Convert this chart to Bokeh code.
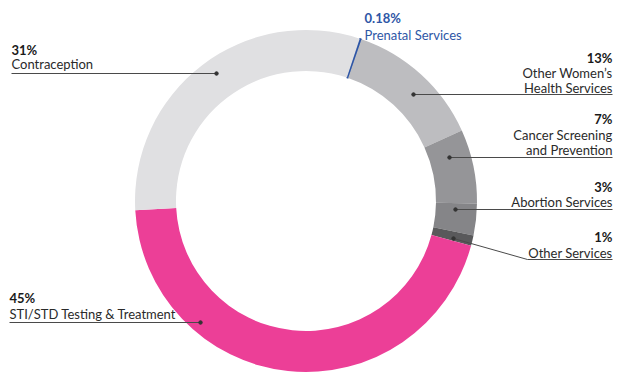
from bokeh.plotting import figure
from bokeh.models import Range1d, ColumnDataSource
from bokeh.core.properties import value
from bokeh.embed import file_html
from bokeh.resources import INLINE
import math

# ---- data ----
categories = ["Prenatal Services", "Other Women’s Health Services", "Cancer Screening and Prevention",
              "Abortion Services", "Other Services", "STI/STD Testing & Treatment", "Contraception"]
shares = [0.18, 13, 7, 3, 1, 45, 31]
share_labels = ["0.18%", "13%", "7%", "3%", "1%", "45%", "31%"]
colors = ["#2e56a6", "#bdbdc0", "#959598", "#858588", "#59595b", "#ec3f97", "#e0e0e2"]
label_lines = [["Prenatal Services"], ["Other Women’s", "Health Services"], ["Cancer Screening", "and Prevention"],
               ["Abortion Services"], ["Other Services"], ["STI/STD Testing & Treatment"], ["Contraception"]]

# ---- layout (page pixel coords) ----
W, H = 628, 379
def X(px): return px
def Y(py): return H - py

CX, CY = 305.5, 200.5
R_OUT, R_IN = 171, 130
START_CLOCK = 18.3  # degrees clockwise from 12 o'clock where first slice begins

p = figure(width=W, height=H, output_backend="svg", toolbar_location=None,
           x_range=Range1d(0, W), y_range=Range1d(0, H), min_border=0)
p.axis.visible = False
p.grid.visible = False
p.outline_line_color = None
p.background_fill_color = "white"
p.border_fill_color = "white"

total = sum(shares)
starts, ends = [], []
acc = START_CLOCK
for s in shares:
    a = acc
    b = acc + s / total * 360.0
    starts.append(math.radians(90 - b))
    ends.append(math.radians(90 - a))
    acc = b

line_w = [1.2] + [0] * (len(shares) - 1)
src = ColumnDataSource(dict(x=[X(CX)] * len(shares), y=[Y(CY)] * len(shares),
                            start=starts, end=ends, color=colors, cat=categories, lw=line_w))
p.annular_wedge(x="x", y="y", inner_radius=R_IN, outer_radius=R_OUT, start_angle="start",
                end_angle="end", fill_color="color", line_color="color", line_width="lw", source=src)

layout = [
    (364, "left", 17.5, 34, 15, None),
    (612, "right", 57, 72, 15, [(413, 94), (612, 94)]),
    (612, "right", 118, 134, 15, [(449, 157), (612, 157)]),
    (612, "right", 186, 201, 15, [(455, 209), (612, 209)]),
    (612, "right", 236, 252, 15, [(453, 238), (527, 259), (612, 259)]),
    (9, "left", 297, 313, 15, [(200, 322), (9, 322)]),
    (11, "left", 49, 63, 15, [(216, 73), (11, 73)]),
]

FONT = value("Lato")
for i, (lx, align, pb, lb, step, leader) in enumerate(layout):
    col_pct = "#2e56a6" if i == 0 else "#1a1a1a"
    col_txt = "#2e56a6" if i == 0 else "#2a2a2a"
    p.text(x=[X(lx)], y=[Y(pb)], text=[share_labels[i]], text_font=FONT, text_font_size="13px",
           text_font_style="bold", text_color=col_pct, text_align=align, text_baseline="alphabetic")
    for j, line in enumerate(label_lines[i]):
        p.text(x=[X(lx)], y=[Y(lb + j * step)], text=[line], text_font=FONT, text_font_size="13px",
               text_color=col_txt, text_align=align, text_baseline="alphabetic")
    if leader:
        p.line(x=[X(a) for a, b in leader], y=[Y(b) for a, b in leader], line_color="#4a4a4a", line_width=1)
        p.scatter(x=[X(leader[0][0])], y=[Y(leader[0][1])], size=3.5, color="#333333")

open("out.html", "w").write(file_html(p, INLINE))
